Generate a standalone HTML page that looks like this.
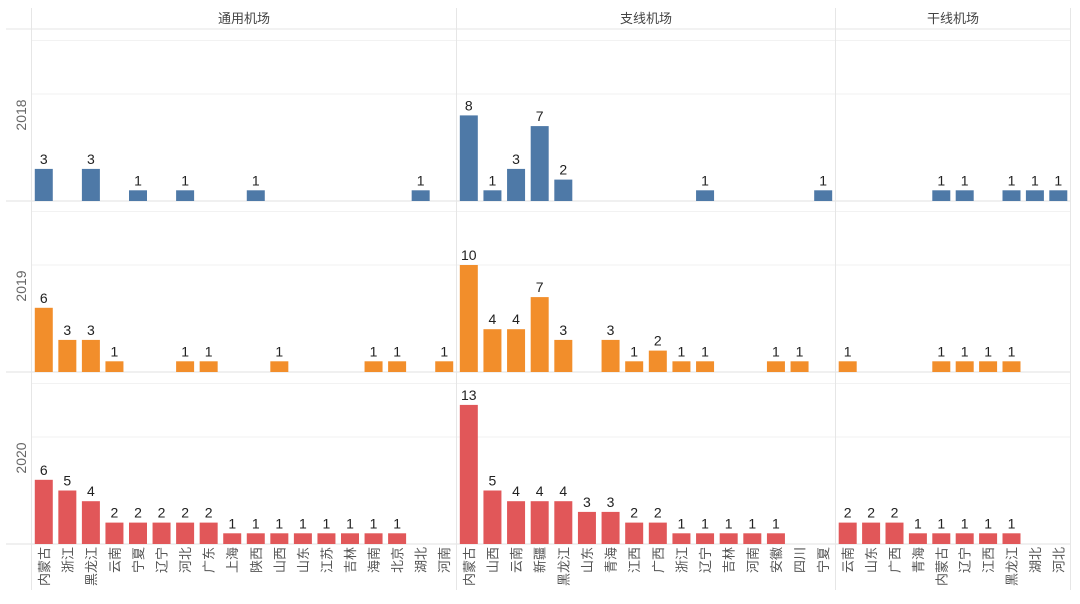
<!DOCTYPE html>
<html><head><meta charset="utf-8">
<style>
html,body{margin:0;padding:0;background:#fff;}
svg{display:block;font-family:"Liberation Sans","Noto Sans CJK SC",sans-serif;}
</style></head>
<body>
<svg id="chart" width="1080" height="604" viewBox="0 0 1080 604" xmlns="http://www.w3.org/2000/svg"></svg>
<script>
const years = ["2018","2019","2020"];
const colorsByYear = ["#4e79a7","#f28e2b","#e15759"];
const groupNames = ["通用机场","支线机场","干线机场"];
const catsGeneral = ["内蒙古","浙江","黑龙江","云南","宁夏","辽宁","河北","广东","上海","陕西","山西","山东","江苏","吉林","海南","北京","湖北","河南"];
const catsBranch = ["内蒙古","山西","云南","新疆","黑龙江","山东","青海","江西","广西","浙江","辽宁","吉林","河南","安徽","四川","宁夏"];
const catsTrunk = ["云南","山东","广西","青海","内蒙古","辽宁","江西","黑龙江","湖北","河北"];
const general2018 = [3,0,3,0,1,0,1,0,0,1,0,0,0,0,0,0,1,0];
const general2019 = [6,3,3,1,0,0,1,1,0,0,1,0,0,0,1,1,0,1];
const general2020 = [6,5,4,2,2,2,2,2,1,1,1,1,1,1,1,1,0,0];
const branch2018 = [8,1,3,7,2,0,0,0,0,0,1,0,0,0,0,1];
const branch2019 = [10,4,4,7,3,0,3,1,2,1,1,0,0,1,1,0];
const branch2020 = [13,5,4,4,4,3,3,2,2,1,1,1,1,1,0,0];
const trunk2018 = [0,0,0,0,1,1,0,1,1,1];
const trunk2019 = [1,0,0,0,1,1,1,1,0,0];
const trunk2020 = [2,2,2,1,1,1,1,1,0,0];
const gridValues = [10,15];

const groupCats = [catsGeneral,catsBranch,catsTrunk];
const groupVals = [[general2018,general2019,general2020],[branch2018,branch2019,branch2020],[trunk2018,trunk2019,trunk2020]];
const colX = [[32,456],[457,835],[836,1070]];
const rowBase = [201,372,544];
const unitPx = 10.7;
const NS = "http://www.w3.org/2000/svg";
const svg = document.getElementById("chart");
function el(tag, attrs, parent){const e=document.createElementNS(NS,tag);for(const k in attrs)e.setAttribute(k,attrs[k]);(parent||svg).appendChild(e);return e;}
function yScale(r,v){return rowBase[r]-v*unitPx;}
function xScale(g,i){const [a,b]=colX[g];const w=(b-a)/groupCats[g].length;return a+w*(i+0.5);}

// grid lines
for(let r=0;r<3;r++){
  for(const gv of gridValues){
    const gl=el("line",{x1:32,x2:1070,y1:yScale(r,gv),y2:yScale(r,gv),stroke:"#f2f2f2","stroke-width":1});
    
    
  }
  const bl=el("line",{x1:6,x2:1070,y1:rowBase[r],y2:rowBase[r],stroke:"#e0e0e0","stroke-width":1});
  
  
  const yt=el("text",{x:0,y:0,transform:`translate(26,${rowBase[r]-86}) rotate(-90)`,"text-anchor":"middle","font-size":14,fill:"#666"});
  yt.textContent=years[r];
  
  
}
// header line and separators
const hl=el("line",{x1:6,x2:1070,y1:29,y2:29,stroke:"#e6e6e6"});


const al=el("line",{x1:31.5,x2:31.5,y1:8,y2:590,stroke:"#e6e6e6"});


for(const sx of [456.5,835.5,1070.5]){
  const s=el("line",{x1:sx,x2:sx,y1:8,y2:590,stroke:"#e6e6e6"});
  
  
}
for(let g=0;g<3;g++){
  const h=el("text",{x:(colX[g][0]+colX[g][1])/2,y:23,"text-anchor":"middle","font-size":13,fill:"#444"});
  h.textContent=groupNames[g];
  
  
  const cats=groupCats[g];
  for(let i=0;i<cats.length;i++){
    const cx=xScale(g,i);
    const t=el("text",{x:0,y:0,transform:`translate(${cx+5},547) rotate(-90)`,"text-anchor":"end","font-size":13,fill:"#555"});
    t.textContent=cats[i];
    
    
    for(let r=0;r<3;r++){
      const v=groupVals[g][r][i];
      if(!v) continue;
      const y=yScale(r,v);
      const b=el("rect",{x:cx-9,y:y,width:18,height:rowBase[r]-y,fill:colorsByYear[r]});
      
      
      const lt=el("text",{x:cx,y:y-5,"text-anchor":"middle","font-size":14,fill:"#222"});
      lt.textContent=v;
      
      
    }
  }
}
</script>
</body></html>
